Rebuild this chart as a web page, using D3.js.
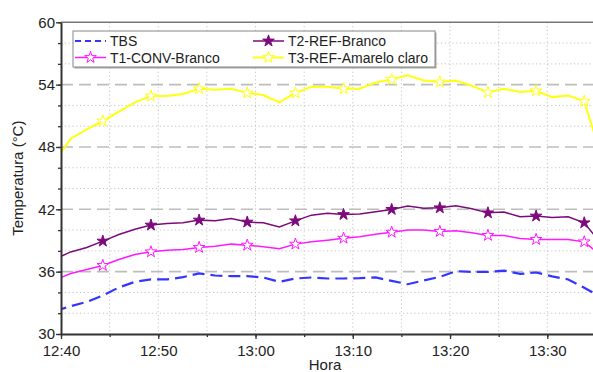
<!DOCTYPE html>
<html>
<head>
  <meta charset="utf-8">
  <title></title>
  <style>
  	body { margin: 0; background: #fff; }
  	svg text { font-family: Arial, "Liberation Sans", sans-serif; fill: #222; }
  	.grid-minor line { stroke: #c4c4c4; stroke-width: 1; stroke-dasharray: 1.2,2.6; }
  	.grid-major line { stroke: #bdbdbd; stroke-width: 1.6; stroke-dasharray: 12,6; }
  	.axis path, .axis line { stroke: #333; }
  </style>
</head>
<body>
<svg width="593" height="372"></svg>
<script src="https://cdn.jsdelivr.net/npm/d3@7"></script>
<script>

// minutes after 12:40
var minutes = [-0.65, 1.0, 2.65, 4.3, 5.95, 7.6, 9.25, 10.9, 12.55, 14.2, 15.85, 17.5,
	19.15, 20.8, 22.45, 24.1, 25.75, 27.4, 29.05, 30.7, 32.35, 34.0, 35.65, 37.3,
	38.95, 40.6, 42.25, 43.9, 45.55, 47.2, 48.85, 50.5, 52.15, 53.8, 55.45];

var tbs = [32.2, 32.68, 33.09, 33.71, 34.48, 35.02, 35.25, 35.25, 35.47, 35.83, 35.63, 35.57,
	35.57, 35.44, 35.02, 35.34, 35.44, 35.34, 35.34, 35.37, 35.44, 35.11, 34.79, 35.15,
	35.5, 36.05, 35.98, 35.98, 36.1, 35.78, 35.92, 35.55, 35.25, 34.45, 33.6];

var t1ConvBranco = [35.2, 35.82, 36.21, 36.6, 37.17, 37.66, 37.91, 38.07, 38.14, 38.33, 38.45, 38.65,
	38.55, 38.39, 38.2, 38.65, 38.87, 39.03, 39.22, 39.35, 39.61, 39.8, 40.0, 40.0,
	39.87, 39.93, 39.74, 39.49, 39.49, 39.2, 39.1, 39.1, 39.1, 38.87, 37.6];

var t2RefBranco = [37.2, 37.9, 38.33, 38.94, 39.58, 40.09, 40.48, 40.64, 40.7, 40.96, 40.89, 41.12,
	40.77, 40.7, 40.31, 40.89, 41.44, 41.63, 41.5, 41.54, 41.76, 41.99, 42.31, 42.11,
	42.14, 42.34, 42.05, 41.66, 41.73, 41.28, 41.35, 41.22, 41.28, 40.7, 38.8];

var t3RefAmarelo = [46.6, 48.8, 49.7, 50.5, 51.4, 52.3, 52.9, 52.9, 53.1, 53.6, 53.5, 53.6,
	53.2, 53.0, 52.3, 53.2, 53.8, 53.8, 53.6, 53.6, 54.2, 54.5, 54.9, 54.4,
	54.25, 54.4, 53.9, 53.25, 53.6, 53.3, 53.4, 52.8, 52.95, 52.4, 47.4];

var seriesNames = ["TBS", "T1-CONV-Branco", "T2-REF-Branco", "T3-REF-Amarelo claro"];
var yTicks = [30, 36, 42, 48, 54, 60];

var series = [
	{name: seriesNames[0], values: tbs, color: "#3535ff", dash: "12,6", width: 2.2, marker: null},
	{name: seriesNames[1], values: t1ConvBranco, color: "#ff1aff", dash: null, width: 1.5, marker: "open"},
	{name: seriesNames[2], values: t2RefBranco, color: "#7d0a7d", dash: null, width: 1.5, marker: "filled"},
	{name: seriesNames[3], values: t3RefAmarelo, color: "#ffff10", dash: null, width: 2, marker: "open"}
];

var svg = d3.select("svg");
var margin = {left: 61, top: 22.3, right: 0, bottom: 38};
var width = +svg.attr("width"),
	height = +svg.attr("height");

var base = new Date(2000, 0, 1, 12, 40);
function toDate(m) { return new Date(base.getTime() + m * 60000); }

var x = d3.scaleTime()
	.domain([base, toDate(54.7)])
	.range([margin.left, width]);

var y = d3.scaleLinear()
	.domain([30, 60])
	.range([height - margin.bottom, margin.top]);

var x0 = margin.left, x1 = width, yTop = y(60), yBot = y(30);

svg.append("clipPath").attr("id", "clip")
	.append("rect").attr("x", x0).attr("y", yTop).attr("width", x1 - x0).attr("height", yBot - yTop);

// grid
var minorY = d3.range(32, 60, 2).filter(function(v) { return v % 6 != 0; });
var gridMinor = svg.append("g").attr("class", "grid-minor");
gridMinor.selectAll(".h").data(minorY).enter().append("line")
	.attr("x1", x0).attr("x2", x1)
	.attr("y1", function(d) { return y(d); }).attr("y2", function(d) { return y(d); });
gridMinor.selectAll(".v").data(x.ticks(d3.timeMinute.every(5)).slice(1)).enter().append("line")
	.attr("y1", yTop).attr("y2", yBot)
	.attr("x1", function(d) { return x(d); }).attr("x2", function(d) { return x(d); });

svg.append("g").attr("class", "grid-major")
	.selectAll("line").data(yTicks.slice(1, -1)).enter().append("line")
	.attr("x1", x0).attr("x2", x1)
	.attr("y1", function(d) { return y(d); }).attr("y2", function(d) { return y(d); });

// lines
var line = d3.line()
	.x(function(d) { return x(toDate(d[0])); })
	.y(function(d) { return y(d[1]); });

var star = d3.symbol().type(d3.symbolStar).size(42);

var plot = svg.append("g").attr("clip-path", "url(#clip)");

series.forEach(function(s) {
	var pts = minutes.map(function(m, i) { return [m, s.values[i]]; });
	plot.append("path")
		.datum(pts)
		.attr("fill", "none")
		.attr("stroke", s.color)
		.attr("stroke-width", s.width)
		.attr("stroke-dasharray", s.dash)
		.attr("d", line);
	if (s.marker) {
		plot.selectAll(null)
			.data(pts.filter(function(d, i) { return i > 0 && i % 3 == 0 && i < minutes.length - 1; }))
			.enter().append("path")
			.attr("d", star)
			.attr("transform", function(d) { return "translate(" + x(toDate(d[0])) + "," + y(d[1]) + ")"; })
			.attr("fill", s.marker == "filled" ? s.color : "#fff")
			.attr("stroke", s.color)
			.attr("stroke-width", 1);
	}
});

// frame top
svg.append("line")
	.attr("x1", x0).attr("x2", x1).attr("y1", yTop).attr("y2", yTop)
	.attr("stroke", "#777").attr("stroke-width", 1.5);

// axes
var xAxis = svg.append("g")
	.attr("class", "axis")
	.attr("transform", "translate(0," + yBot + ")")
	.call(d3.axisBottom(x).ticks(d3.timeMinute.every(10)).tickFormat(d3.timeFormat("%H:%M")).tickSize(5).tickSizeOuter(0));
xAxis.selectAll(".tick text").attr("font-size", 15).attr("dy", "0.95em").attr("fill", "#222");

svg.append("g")
	.attr("class", "axis")
	.attr("transform", "translate(0," + yBot + ")")
	.call(d3.axisBottom(x).ticks(d3.timeMinute.every(5)).tickFormat("").tickSize(3).tickSizeOuter(0))
	.select(".domain").remove();

var yAxis = svg.append("g")
	.attr("class", "axis")
	.attr("transform", "translate(" + x0 + ",0)")
	.call(d3.axisLeft(y).tickValues(yTicks).tickSize(5).tickSizeOuter(0));
yAxis.selectAll(".tick text").attr("font-size", 15).attr("x", -6).attr("fill", "#222");

svg.append("g")
	.attr("class", "axis")
	.attr("transform", "translate(" + x0 + ",0)")
	.call(d3.axisLeft(y).tickValues(d3.range(30, 61, 2)).tickFormat("").tickSize(3).tickSizeOuter(0))
	.select(".domain").remove();

svg.selectAll(".axis .domain").attr("stroke", "#333").attr("stroke-width", 2);
svg.selectAll(".axis .tick line").attr("stroke", "#333").attr("stroke-width", 1.3);

// axis titles
svg.append("text")
	.attr("transform", "translate(23," + ((yTop + yBot) / 2) + ") rotate(-90)")
	.attr("text-anchor", "middle")
	.attr("font-size", 15)
	.text("Temperatura (°C)");

svg.append("text")
	.attr("x", 325).attr("y", 370)
	.attr("text-anchor", "middle")
	.attr("font-size", 15)
	.text("Hora");

// legend
var legend = svg.append("g");
legend.append("rect")
	.attr("x", 74.5).attr("y", 32.5).attr("width", 362).attr("height", 36)
	.attr("fill", "#aaa");
legend.append("rect")
	.attr("x", 73).attr("y", 31).attr("width", 362).attr("height", 36)
	.attr("fill", "#fff").attr("stroke", "#888").attr("stroke-width", 1);

var legendPos = [[75, 41], [75, 57.5], [253, 41], [253, 57.5]];
series.forEach(function(s, i) {
	var p = legendPos[i];
	var g = legend.append("g").attr("transform", "translate(" + p[0] + "," + p[1] + ")");
	g.append("line")
		.attr("x1", 0).attr("x2", 31).attr("y1", 0).attr("y2", 0)
		.attr("stroke", s.color)
		.attr("stroke-width", s.width)
		.attr("stroke-dasharray", s.dash ? "6,4" : null);
	if (s.marker) {
		g.append("path")
			.attr("d", star)
			.attr("transform", "translate(15.5,0)")
			.attr("fill", s.marker == "filled" ? s.color : "#fff")
			.attr("stroke", s.color);
	}
	g.append("text")
		.attr("x", 35).attr("y", 0).attr("dy", "0.36em")
		.attr("font-size", 14)
		.text(s.name);
});

</script>
</body>
</html>
